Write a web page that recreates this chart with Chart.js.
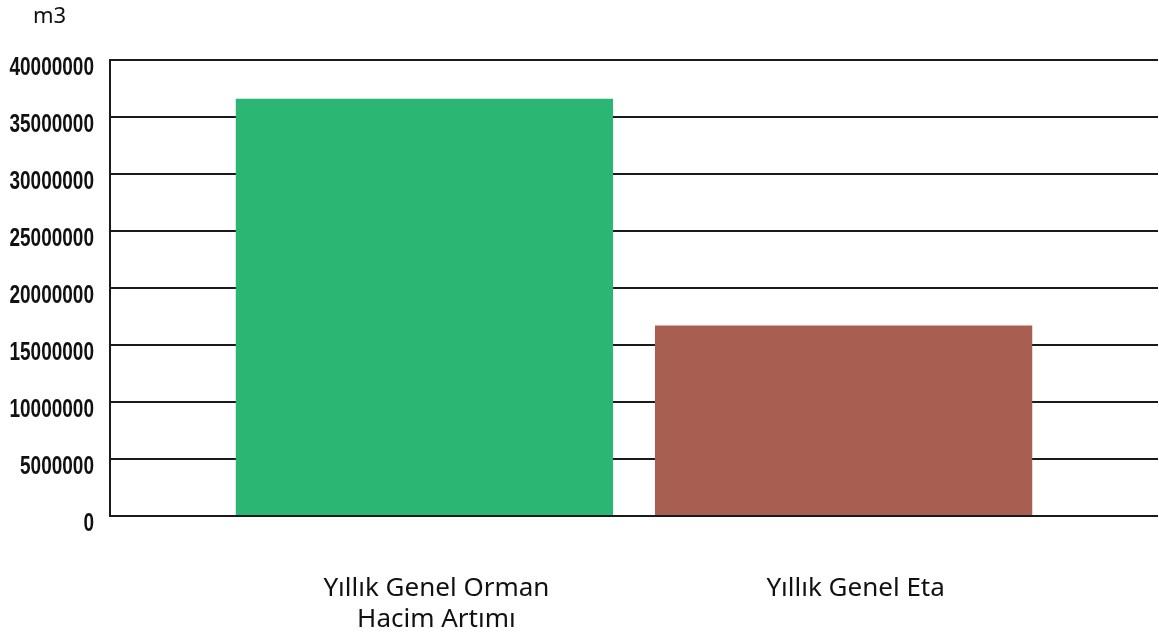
<!DOCTYPE html>
<html>
<head>
<meta charset="utf-8">
<script src="https://cdn.jsdelivr.net/npm/chart.js@4/dist/chart.umd.min.js"></script>
<style>
  html, body { margin: 0; padding: 0; background: #fff; }
  #wrap { width: 1159px; height: 638px; }
</style>
</head>
<body>
<div id="wrap"><canvas id="c"></canvas></div>
<script>
// data
const categories = [['Yıllık Genel Orman', 'Hacim Artımı'], 'Yıllık Genel Eta'];
const positions = [0, 1];
const values = [36600000, 16700000];
const barColors = ['#2bb673', '#a85f51'];
const yTicks = [0, 5000000, 10000000, 15000000, 20000000, 25000000, 30000000, 35000000, 40000000];
const unitLabel = 'm3';

// unit text + narrow (condensed) y tick labels, no condensed font is installed
const extraText = {
  id: 'extraText',
  afterDraw(chart) {
    const c = chart.ctx;
    c.save();
    c.font = '22px "Noto Sans"';
    c.fillStyle = '#111';
    c.textBaseline = 'top';
    c.fillText(unitLabel, 33, 6);

    const y = chart.scales.y;
    c.font = 'bold 25px "Liberation Sans"';
    c.textAlign = 'right';
    c.textBaseline = 'middle';
    y.ticks.forEach(t => {
      const py = y.getPixelForValue(t.value);
      c.save();
      c.translate(y.right - 16, py + 8);
      c.scale(0.76, 1);
      c.fillText(String(t.value), 0, 0);
      c.restore();
    });
    c.restore();
  }
};

new Chart(document.getElementById('c'), {
  type: 'bar',
  data: {
    datasets: [{
      data: positions.map((p, i) => ({ x: p, y: values[i] })),
      backgroundColor: barColors,
      borderWidth: 0,
      categoryPercentage: 1,
      barPercentage: 0.9,
    }],
  },
  plugins: [extraText],
  options: {
    responsive: true,
    maintainAspectRatio: false,
    animation: false,
    layout: { padding: { top: 60, right: 1, left: 0, bottom: 0 } },
    plugins: { legend: { display: false }, tooltip: { enabled: false } },
    scales: {
      x: {
        type: 'linear',
        offset: false,
        min: -0.75,
        max: 1.75,
        afterBuildTicks: (s) => { s.ticks = positions.map(v => ({ value: v })); },
        afterFit: (s) => { s.height = 122; },
        grid: { display: false, offset: false },
        border: { display: false },
        ticks: {
          padding: 49,
          labelOffset: 12,
          autoSkip: false,
          maxRotation: 0,
          color: '#111',
          font: { family: '"Noto Sans"', size: 26, lineHeight: 1.2 },
          callback: (v) => categories[positions.indexOf(v)],
        },
      },
      y: {
        min: 0,
        max: 40000000,
        afterBuildTicks: (s) => { s.ticks = yTicks.map(v => ({ value: v })); },
        afterFit: (s) => { s.width = 110; },
        grid: { color: '#1a1a1a', lineWidth: 2, drawTicks: false },
        border: { display: true, color: '#1a1a1a', width: 2 },
        ticks: { display: false },
      },
    },
  },
});
</script>
</body>
</html>
